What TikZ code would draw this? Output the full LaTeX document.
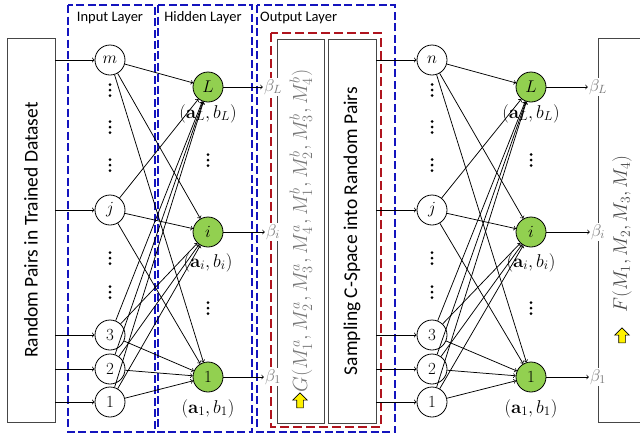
\RequirePackage{fix-cm}
\documentclass[tikz,border=0pt]{standalone}
\usepackage{amsmath,amssymb}
\usepackage{bm}
\usepackage[no-math]{fontspec}
\newfontfamily\calfont{Carlito}
\usepackage{tikz}
\usetikzlibrary{arrows,shapes.arrows}

\definecolor{hidgreen}{RGB}{146,208,80}
\definecolor{layerblue}{RGB}{20,20,190}
\definecolor{pairred}{RGB}{175,20,30}
\definecolor{boxgray}{RGB}{70,70,70}
\definecolor{betagray}{RGB}{120,120,120}

\begin{document}
\begin{tikzpicture}[x=1pt,y=-1pt,
  neuron/.style={draw,circle,minimum size=30pt,inner sep=0pt,line width=0.8pt,font=\fontsize{17}{17}\selectfont},
  hidden/.style={neuron,fill=hidgreen},
  param/.style={anchor=north,font=\fontsize{18.5}{18.5}\selectfont,inner sep=0pt},
  beta/.style={fill=white,text=betagray,inner sep=1pt,font=\fontsize{17}{17}\selectfont},
  vdts/.style={inner sep=0pt,minimum width=4pt,minimum height=16pt,
    path picture={\foreach \d in {-5.5,0,5.5}
      \fill ([yshift=\d pt]path picture bounding box.center) circle (1.5pt);}},
  layer/.style={draw=layerblue,dash pattern=on 8pt off 3.5pt,line width=1.2pt},
  layertitle/.style={font=\calfont\fontsize{14.5}{15}\selectfont,inner sep=0pt},
  bigbox/.style={draw=boxgray,line width=0.9pt,inner sep=0pt,font=\calfont\fontsize{19.5}{20}\selectfont},
  upmark/.style={single arrow,draw,fill=yellow,rotate=90,inner sep=3pt,single arrow head extend=4pt,minimum height=15pt,line width=0.6pt},
  link/.style={->,line width=0.75pt}]
\useasboundingbox (0,0) rectangle (640,437);

% layer frames
\draw[layer] (68,5) rectangle (155,432);
\draw[layer] (158,5) rectangle (252,432);
\draw[layer] (257,5) rectangle (395,432);
\draw[draw=pairred,dash pattern=on 9pt off 4pt,line width=1.4pt] (271,33) rectangle (381,427);
\node[layertitle] (intitle) at (110,18) {Input Layer};
\node[layertitle] (hdtitle) at (203,18) {Hidden Layer};
\node[layertitle,anchor=west] (outtitle) at (260,18) {Output Layer};

% data source and output blocks
\node[bigbox,minimum width=48pt,minimum height=384pt] (dataset) at (31,230) {\rotatebox{90}{Random Pairs in Trained Dataset}};
\node[bigbox,minimum width=47pt,minimum height=384pt] (gbox) at (300.5,231) {};
\node[rotate=90,text=betagray,inner sep=0pt,font=\fontsize{20.5}{21}\selectfont] (gfun) at (301,231)
  {$G(M_1^a, M_2^a, M_3^a, M_4^a, M_1^b, M_2^b, M_3^b, M_4^b)$};
\node[bigbox,minimum width=48pt,minimum height=384pt] (sampling) at (352,231) {\rotatebox{90}{Sampling C-Space into Random Pairs}};
\node[upmark] (gmark) at (300,402) {};

% first network
\node[neuron] (inm) at (110,60) {$m$};
\node[neuron] (inj) at (110,210) {$j$};
\node[neuron] (in3) at (110,335) {$3$};
\node[neuron] (in2) at (110,369) {$2$};
\node[neuron] (in1) at (110,402) {$1$};
\foreach \y in {90,127,165,258,292}
  \node[vdts] (dl\y) at (110,\y) {};
\node[hidden] (hdL) at (208,87) {$L$};
\node[hidden] (hdi) at (208,232) {$i$};
\node[hidden] (hd1) at (208,377) {$1$};
\foreach \y in {160,308}
  \node[vdts] (dh\y) at (208,\y) {};
\node[param] (prmL) at (208,104) {$(\mathbf{a}_L, b_L)$};
\node[param] (prmi) at (208,253) {$(\mathbf{a}_i, b_i)$};
\node[param] (prm1) at (208,399) {$(\mathbf{a}_1, b_1)$};
\node[beta] (betL) at (273,87) {$\beta_L$};
\node[beta] (beti) at (273,232) {$\beta_i$};
\node[beta] (bet1) at (273,377) {$\beta_1$};

\foreach \a in {m,j,3,2,1} {
  \draw[link] (dataset.east |- in\a) -- (in\a);
  \foreach \b in {L,i,1}
    \draw[link] (in\a) -- (hd\b);
}
\foreach \b in {L,i,1}
  \draw[link] (hd\b) -- (bet\b);

% second network
\node[neuron] (rinn) at (432,60) {$n$};
\node[neuron] (rinj) at (432,210) {$j$};
\node[neuron] (rin3) at (432,335) {$3$};
\node[neuron] (rin2) at (432,369) {$2$};
\node[neuron] (rin1) at (432,402) {$1$};
\foreach \y in {90,127,165,258,292}
  \node[vdts] (rdl\y) at (432,\y) {};
\node[hidden] (rhdL) at (531,87) {$L$};
\node[hidden] (rhdi) at (531,232) {$i$};
\node[hidden] (rhd1) at (531,377) {$1$};
\foreach \y in {160,308}
  \node[vdts] (rdh\y) at (531,\y) {};
\node[param] (rprmL) at (531,104) {$(\mathbf{a}_L, b_L)$};
\node[param] (rprmi) at (531,253) {$(\mathbf{a}_i, b_i)$};
\node[param] (rprm1) at (531,399) {$(\mathbf{a}_1, b_1)$};

% target block, open to the right
\draw[boxgray,line width=0.9pt] (660,38) -| (598,422) -- (660,422);
\node[rotate=90,text=boxgray,inner sep=0pt,font=\fontsize{19.5}{20}\selectfont] (ffun) at (622,234) {$F(M_1, M_2, M_3, M_4)$};
\node[upmark] (fmark) at (622,337) {};
\node[beta] (rbetL) at (598,87) {$\beta_L$};
\node[beta] (rbeti) at (598,232) {$\beta_i$};
\node[beta] (rbet1) at (598,377) {$\beta_1$};

\foreach \a in {n,j,3,2,1} {
  \draw[link] (sampling.east |- rin\a) -- (rin\a);
  \foreach \b in {L,i,1}
    \draw[link] (rin\a) -- (rhd\b);
}
\foreach \b in {L,i,1}
  \draw[link] (rhd\b) -- (rbet\b);
\end{tikzpicture}
\end{document}
